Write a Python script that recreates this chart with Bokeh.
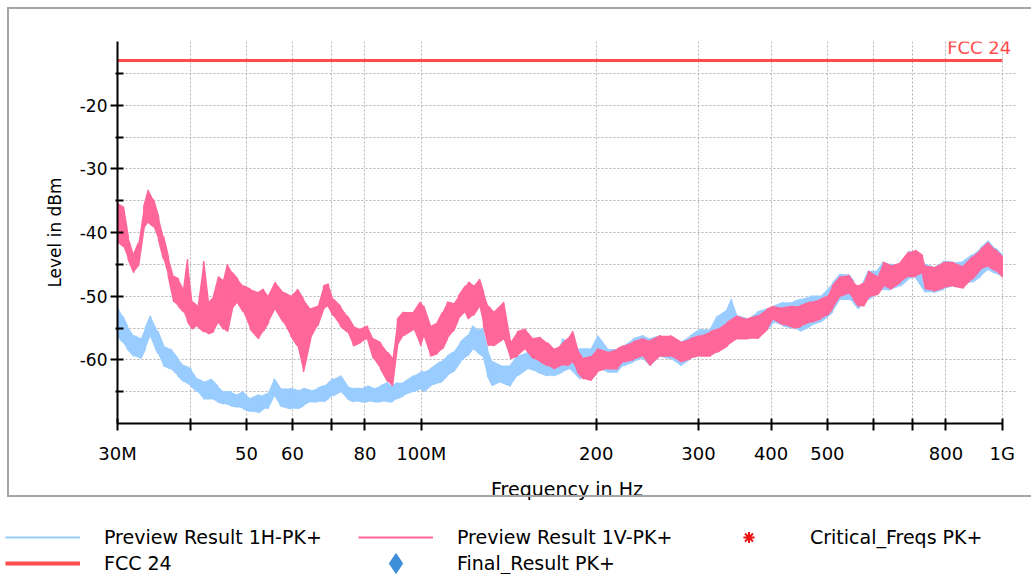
from bokeh.plotting import figure
from bokeh.models import (Range1d, FixedTicker, Label, Legend, LegendItem,
                          ColumnDataSource)
from bokeh.embed import file_html
from bokeh.resources import INLINE

# ---- measured spectra (frequency in MHz, level in dBm; upper / lower edge of the trace) ----
h_freq = [30.0, 30.6, 31.2, 32.0, 32.9, 33.5, 34.2, 35.2, 36.0, 37.0, 38.1, 39.0, 40.1, 41.2,
          42.2, 43.4, 44.6, 45.7, 47.0, 48.3, 49.4, 50.8, 52.5, 53.5, 54.4, 55.8, 57.2, 59.6,
          61.2, 62.7, 64.5, 66.3, 67.9, 69.2, 70.6, 72.6, 74.6, 76.4, 78.6, 80.8, 82.7, 85.1,
          87.5, 89.2, 91.0, 93.2, 97.0, 99.7, 100.9, 103.7, 107.9, 110.9, 113.6, 116.8, 120.1,
          122.5, 124.9, 127.4, 130.0, 132.6, 136.9, 142.4, 146.4, 152.3, 158.5, 164.9, 168.9,
          175.0, 180.6, 187.9, 195.5, 201.0, 209.1, 217.6, 222.8, 231.8, 241.2, 248.0, 258.0,
          268.4, 279.3, 290.6, 302.4, 314.6, 323.5, 336.5, 342.0, 350.2, 364.3, 379.0, 394.3,
          403.8, 420.2, 437.1, 449.4, 467.6, 486.5, 510.2, 526.6, 543.6, 554.5, 565.6, 588.5,
          609.8, 624.5, 642.0, 668.0, 689.5, 708.8, 737.5, 761.3, 792.1, 824.1, 857.5, 888.6,
          917.2, 946.8, 973.4, 1000.0]
h_hi = [-51.6, -53.1, -54.7, -56.2, -56.7, -55.0, -53.1, -55.5, -57.8, -58.3, -59.8, -60.9, -61.4, -63.0,
        -63.5, -63.0, -64.1, -65.0, -65.0, -65.5, -65.0, -66.1, -65.5, -65.6, -65.3, -63.0, -64.5, -64.5,
        -64.8, -64.5, -64.8, -64.5, -64.1, -63.6, -63.0, -62.5, -64.1, -64.5, -64.5, -64.1, -64.5, -64.1,
        -63.6, -64.1, -63.6, -63.6, -62.5, -61.9, -61.9, -61.4, -60.3, -59.4, -58.8, -57.2, -56.2,
        -54.7, -55.3, -55.0, -58.3, -60.3, -60.9, -60.9, -59.4, -58.8, -59.4, -59.8, -60.3,
        -56.7, -57.8, -58.3, -58.3, -56.2, -58.3, -58.3, -57.8, -56.7, -56.2, -56.7, -56.2,
        -56.7, -57.2, -56.2, -55.2, -55.2, -53.1, -52.0, -50.5, -53.1, -53.6, -52.5, -52.0,
        -51.6, -51.0, -50.9, -50.5, -50.0, -50.0, -48.0, -46.5, -46.6, -47.6, -49.5, -46.0,
        -46.0, -44.6, -45.0, -45.3, -43.0, -43.2, -45.0, -45.5, -44.5, -44.7, -44.5, -43.5,
        -42.5, -41.3, -42.5, -43.5]
h_lo = [-56.2, -57.2, -58.3, -59.4, -59.8, -58.3, -56.2, -59.0, -60.9, -61.4, -62.5, -63.4, -64.1, -65.0,
        -66.1, -66.1, -66.6, -66.9, -67.2, -67.4, -67.7, -68.1, -68.3, -67.7, -67.7, -65.6, -67.2, -67.7,
        -67.7, -67.2, -66.6, -66.6, -66.6, -66.1, -65.6, -65.0, -66.1, -66.6, -66.6, -66.6, -66.6, -66.6,
        -66.6, -66.6, -66.1, -65.6, -65.0, -64.5, -65.0, -64.1, -63.6, -62.5, -61.9, -60.3, -59.4,
        -58.3, -58.8, -59.4, -62.5, -64.1, -63.5, -64.1, -62.5, -61.4, -61.9, -62.5, -62.5,
        -61.9, -61.4, -63.0, -61.4, -61.4, -61.9, -61.9, -60.9, -60.3, -59.8, -60.9, -59.4,
        -59.8, -60.9, -59.8, -59.4, -58.8, -58.3, -57.2, -56.2, -56.7, -56.7, -56.2, -55.2,
        -54.1, -54.7, -55.0, -55.5, -54.7, -54.1, -52.5, -50.5, -50.5, -51.0, -52.0, -50.5,
        -49.5, -48.9, -49.0, -48.4, -47.3, -47.0, -49.4, -49.4, -48.9, -48.4, -48.0, -47.8,
        -46.9, -45.8, -46.4, -47.0]

v_freq = [30.0, 30.7, 31.3, 32.0, 32.6, 33.3, 33.9, 34.6, 35.3, 36.0, 36.7, 37.5, 38.2, 39.0,
          39.6, 40.4, 41.2, 42.2, 43.0, 43.9, 44.8, 45.7, 46.4, 47.3, 48.3, 49.4, 50.8, 52.5,
          53.5, 54.6, 56.1, 57.9, 59.6, 61.2, 62.7, 64.5, 66.3, 67.9, 69.2, 70.6, 72.6, 74.6,
          76.4, 78.6, 80.8, 82.7, 85.1, 87.5, 89.2, 91.0, 93.2, 97.0, 99.7, 100.9, 103.7, 106.6,
          108.8, 110.9, 113.6, 115.9, 119.1, 120.6, 123.0, 125.9, 128.0, 130.5, 133.1, 138.5,
          142.4, 146.4, 151.1, 156.0, 160.4, 164.9, 168.9, 173.6, 178.5, 182.1, 185.7, 190.2,
          195.5, 201.0, 209.1, 217.6, 222.8, 231.8, 241.2, 248.0, 258.0, 268.4, 279.3, 290.6,
          302.4, 314.6, 323.5, 336.5, 350.2, 364.3, 379.0, 394.3, 403.8, 420.2, 437.1, 449.4,
          467.6, 486.5, 500.2, 510.2, 526.6, 543.6, 554.5, 565.6, 576.9, 588.5, 609.8, 624.5,
          642.0, 668.0, 689.5, 708.8, 728.8, 737.5, 761.3, 792.1, 824.1, 857.5, 888.6, 917.2,
          946.8, 973.4, 1000.0]
v_hi = [-35.3, -35.9, -40.6, -43.4, -41.6, -35.9, -33.3, -34.8, -37.5, -40.6, -43.8, -46.9, -47.3, -48.9,
        -44.2, -50.9, -51.6, -44.5, -50.9, -50.0, -46.9, -47.5, -45.0, -46.3, -47.3, -48.4, -48.9, -49.4,
        -48.9, -50.0, -47.8, -49.4, -50.0, -48.9, -50.5, -52.0, -51.6, -48.4, -48.1, -50.5, -51.6, -53.1,
        -54.7, -55.2, -54.7, -56.7, -57.3, -58.8, -59.8, -53.6, -52.5, -52.5, -50.9, -51.5, -54.7, -54.1,
        -52.5, -50.9, -51.2, -50.0, -48.4, -47.8, -48.4, -47.3, -49.4, -51.6, -52.5, -50.9,
        -57.2, -55.6, -55.2, -56.7, -56.5, -57.3, -58.3, -57.8, -56.7, -55.5, -58.3, -59.8,
        -59.5, -58.3, -58.8, -58.3, -57.8, -57.2, -56.7, -57.0, -56.2, -56.2, -57.2, -56.7,
        -56.2, -55.6, -55.2, -54.1, -53.1, -53.6, -53.1, -52.0, -51.6, -51.8, -51.6, -51.5,
        -50.9, -50.5, -50.0, -48.4, -46.9, -46.7, -47.8, -48.4, -48.0, -46.1, -47.0, -44.7,
        -45.2, -44.7, -43.1, -42.8, -43.6, -45.3, -45.5, -44.7, -44.7, -45.3, -43.8, -42.7,
        -41.6, -42.7, -43.8]
v_lo = [-41.4, -42.2, -44.2, -46.3, -45.3, -39.5, -38.4, -39.1, -41.1, -44.2, -46.9, -50.9, -51.6, -52.5,
        -54.0, -55.2, -54.7, -55.6, -55.9, -55.6, -54.1, -55.2, -55.6, -52.0, -51.0, -52.5, -55.2, -56.7,
        -55.5, -54.1, -52.0, -54.1, -56.2, -57.8, -61.9, -56.7, -54.7, -52.0, -51.6, -53.1, -54.7, -55.6,
        -57.8, -57.3, -56.7, -59.8, -61.4, -63.4, -64.1, -57.8, -56.2, -55.2, -57.8, -56.2, -59.4, -59.0,
        -58.3, -56.7, -55.5, -53.6, -52.5, -53.6, -53.0, -51.6, -54.7, -57.8, -57.8, -56.7,
        -59.8, -59.4, -58.3, -59.8, -60.3, -60.9, -61.4, -60.9, -60.9, -60.3, -61.9, -63.0,
        -63.3, -61.9, -61.4, -61.4, -60.3, -60.0, -59.4, -60.9, -59.4, -59.4, -60.3, -59.8,
        -59.4, -59.4, -58.8, -57.8, -56.7, -56.7, -56.7, -55.2, -53.6, -54.5, -55.0, -54.8,
        -54.1, -53.6, -53.0, -52.0, -50.0, -49.5, -50.5, -51.6, -51.6, -50.2, -49.8, -48.4,
        -48.9, -47.8, -46.9, -46.9, -46.4, -48.9, -49.2, -48.7, -48.4, -48.7, -47.3, -45.8,
        -45.3, -46.0, -47.0]

# limit line
fcc_freq = [30.0, 1000.0]
fcc_level = [-13.0, -13.0]

# axis ticks
x_ticks = [30, 40, 50, 60, 70, 80, 100, 200, 300, 400, 500, 600, 700, 800, 1000]
x_tick_labels = ["30M", "", "50", "60", "", "80", "100M", "200", "300", "400", "500",
                 "", "", "800", "1G"]
y_major = [-60, -50, -40, -30, -20]
y_minor = [-65, -55, -45, -35, -25, -15]

BLUE = "#99ccff"
PINK = "#ff6699"
RED = "#ff4d4d"
FONT = "DejaVu Sans"


def spiky(freq, hi, lo):
    """Trace path that alternates between the upper and lower edge at every sweep point."""
    xs, ys = [], []
    for i, (f, h, l) in enumerate(zip(freq, hi, lo)):
        xs += [f, f]
        ys += [h, l] if i % 2 == 0 else [l, h]
    return xs, ys


# frame: 30 MHz .. 1 GHz spans 117..1002 px; a little room is left right of 1 GHz
p = figure(width=1031, height=504, x_axis_type="log",
           x_range=Range1d(30, 1058), y_range=Range1d(-70, -10),
           toolbar_location=None, output_backend="svg",
           min_border_left=117, min_border_right=15,
           min_border_top=41, min_border_bottom=81)
p.outline_line_color = None
p.background_fill_color = "white"
p.border_fill_color = "white"
# grey panel frame drawn over the canvas
p.stylesheets = [
    ":host { position: relative; }"
    ":host::after { content: ''; position: absolute; left: 7px; top: 7px; right: 0px;"
    " bottom: 7px; border-left: 2px solid #a6a6a6; border-top: 2px solid #a6a6a6;"
    " border-bottom: 2px solid #a6a6a6; pointer-events: none; z-index: 100; }"
]

# grid
p.xaxis.ticker = FixedTicker(ticks=x_ticks)
p.xaxis.major_label_overrides = {t: s for t, s in zip(x_ticks, x_tick_labels)}
p.xaxis.bounds = (x_ticks[0], x_ticks[-1])
p.yaxis.ticker = FixedTicker(ticks=y_major, minor_ticks=y_minor)
p.yaxis.major_label_overrides = {t: str(t) for t in y_major}
for g in (p.xgrid, p.ygrid):
    g.grid_line_color = "#b4b4b4"
    g.grid_line_dash = "2 2"
    g.grid_line_width = 1
p.ygrid.minor_grid_line_color = "#b4b4b4"
p.ygrid.minor_grid_line_dash = "2 2"

# axes
for ax in (p.xaxis, p.yaxis):
    ax.axis_line_color = "black"
    ax.axis_line_width = 2
    ax.major_tick_line_color = "black"
    ax.major_tick_line_width = 2
    ax.major_label_text_font = FONT
    ax.major_label_text_color = "black"
    ax.axis_label_text_font = FONT
    ax.axis_label_text_font_style = "normal"
    ax.axis_label_text_color = "black"

p.xaxis.axis_label = "Frequency in Hz"
p.xaxis.axis_label_text_font_size = "19px"
p.xaxis.major_label_text_font_size = "18px"
p.xaxis.major_tick_in = 5
p.xaxis.major_tick_out = 7
p.xaxis.minor_tick_line_color = None
p.xaxis.major_label_standoff = 12
p.xaxis.axis_label_standoff = 11

p.yaxis.axis_label = "Level in dBm"
p.yaxis.axis_label_text_font_size = "17px"
p.yaxis.major_label_text_font_size = "17px"
p.yaxis.major_tick_in = 6
p.yaxis.major_tick_out = 7
p.yaxis.minor_tick_in = 6
p.yaxis.minor_tick_out = 2
p.yaxis.minor_tick_line_color = "black"
p.yaxis.minor_tick_line_width = 2
p.yaxis.major_label_standoff = 3
p.yaxis.axis_label_standoff = 12

# horizontal-polarisation trace
hx, hy = spiky(h_freq, h_hi, h_lo)
p.varea(x=h_freq, y1=h_lo, y2=h_hi, fill_color=BLUE)
p.line(hx, hy, line_color=BLUE, line_width=1.5)

# vertical-polarisation trace
vx, vy = spiky(v_freq, v_hi, v_lo)
p.varea(x=v_freq, y1=v_lo, y2=v_hi, fill_color=PINK)
p.line(vx, vy, line_color=PINK, line_width=1.5)

# limit line and its name
p.line(fcc_freq, fcc_level, line_color=RED, line_width=3)
p.add_layout(Label(x=fcc_freq[-1], y=fcc_level[-1], x_offset=9, y_offset=3,
                   text="FCC 24", text_align="right", text_baseline="bottom",
                   text_font=FONT, text_font_size="18px", text_color=RED))

# legend strip under the diagram; its proxies sit outside the visible range
leg = figure(width=1031, height=70, toolbar_location=None, output_backend="svg",
             x_range=Range1d(0, 1), y_range=Range1d(0, 1),
             x_axis_location=None, y_axis_location=None, min_border=0)
leg.outline_line_color = None
leg.grid.visible = False
proxy = ColumnDataSource(data=dict(x=[-5.0], y=[-5.0]))
r_h = leg.line("x", "y", source=proxy, line_color=BLUE, line_width=2)
r_v = leg.line("x", "y", source=proxy, line_color=PINK, line_width=2)
r_c = leg.scatter("x", "y", source=proxy, marker="asterisk",
                  line_color="#ee1111", line_width=2)
r_f = leg.line("x", "y", source=proxy, line_color=RED, line_width=4)
r_d = leg.scatter("x", "y", source=proxy, marker="diamond",
                  fill_color="#3d8fd9", line_color="#3d8fd9")

common = dict(orientation="horizontal", padding=0, spacing=20, glyph_width=75,
              label_width=234, label_standoff=24,
              border_line_color=None, background_fill_alpha=0,
              label_text_font=FONT, label_text_font_size="19px",
              label_text_color="black")
row1 = Legend(items=[LegendItem(label="Preview Result 1H-PK+", renderers=[r_h]),
                     LegendItem(label="Preview Result 1V-PK+", renderers=[r_v]),
                     LegendItem(label="Critical_Freqs PK+", renderers=[r_c])],
              location=(5, 23), glyph_height=28, label_height=28, **common)
row2 = Legend(items=[LegendItem(label="FCC 24", renderers=[r_f]),
                     LegendItem(label="Final_Result PK+", renderers=[r_d])],
              location=(5, -14), glyph_height=50, label_height=50, **common)
leg.add_layout(row1)
leg.add_layout(row2)

open("out.html", "w").write(file_html([p, leg], INLINE))
